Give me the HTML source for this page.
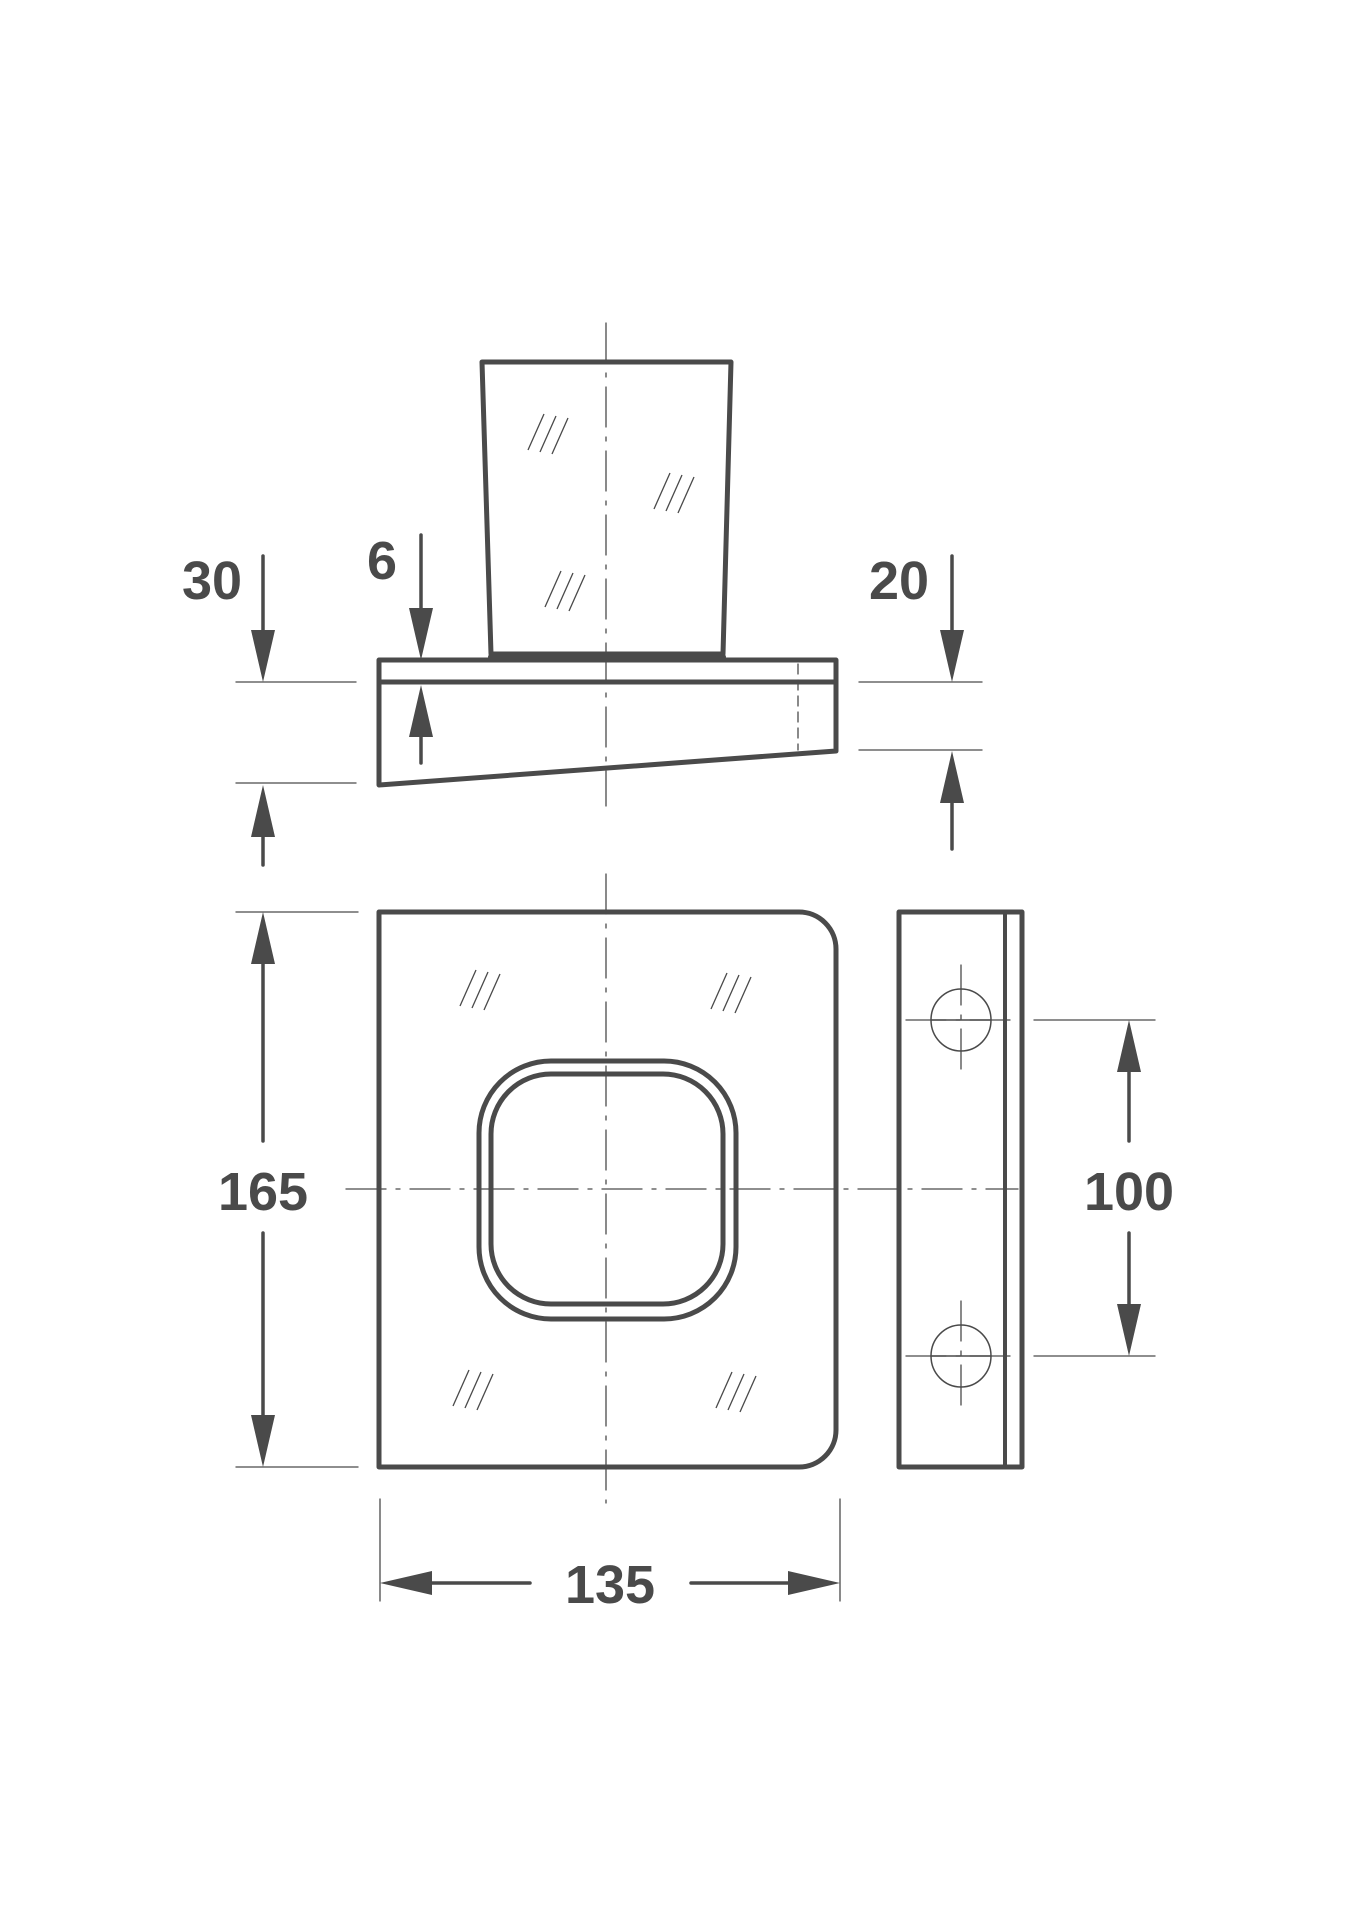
<!DOCTYPE html>
<html><head><meta charset="utf-8"><style>
html,body{margin:0;padding:0;background:#fff;}
svg{display:block;}
text{font-family:"Liberation Sans",sans-serif;font-weight:bold;fill:#4a4a4a;text-anchor:middle;}
</style></head><body>
<svg width="1352" height="1920" viewBox="0 0 1352 1920" xmlns="http://www.w3.org/2000/svg">
<defs>
<g id="h" stroke="#4a4a4a" stroke-width="1.3">
<line x1="-18" y1="18" x2="-2" y2="-18"/><line x1="-6" y1="20" x2="10" y2="-16"/><line x1="6" y1="22" x2="22" y2="-14"/>
</g>
</defs>
<g fill="none" stroke="#4a4a4a" stroke-linecap="round" stroke-linejoin="round">
<g stroke-width="1.3" stroke-dasharray="40,10,4,10">
<line x1="606" y1="323" x2="606" y2="806"/>
<line x1="606" y1="874" x2="606" y2="1503"/>
<line x1="346" y1="1189" x2="1018" y2="1189"/>
<line x1="961" y1="965" x2="961" y2="1075"/>
<line x1="961" y1="1301" x2="961" y2="1411"/>
<line x1="906" y1="1020" x2="1016" y2="1020"/>
<line x1="906" y1="1356" x2="1016" y2="1356"/>
</g>
<line x1="798" y1="664" x2="798" y2="750" stroke-width="1.3" stroke-dasharray="10,6"/>
<path d="M482 362 L731 362 L723 654 L491 654 Z" stroke-width="5"/>
<line x1="491" y1="657" x2="723" y2="657" stroke-width="6"/>
<path d="M379 660 L836 660 L836 751 L379 785 Z" stroke-width="5"/>
<line x1="379" y1="682" x2="836" y2="682" stroke-width="5"/>
<path d="M379 912 L799 912 A37 37 0 0 1 836 949 L836 1430 A37 37 0 0 1 799 1467 L379 1467 Z" stroke-width="5"/>
<rect x="479" y="1061" width="257" height="258" rx="72" stroke-width="5"/>
<rect x="491" y="1074" width="232" height="230" rx="60" stroke-width="5"/>
<rect x="899" y="912" width="123" height="555" stroke-width="5"/>
<line x1="1005" y1="912" x2="1005" y2="1467" stroke-width="4"/>
<ellipse cx="961" cy="1020" rx="30" ry="31" stroke-width="1.5"/>
<ellipse cx="961" cy="1356" rx="30" ry="31" stroke-width="1.5"/>
<line x1="931" y1="1020" x2="991" y2="1020" stroke-width="1.5"/>
<line x1="931" y1="1356" x2="991" y2="1356" stroke-width="1.5"/>
<g stroke-width="1.3">
<line x1="236" y1="682" x2="356" y2="682"/>
<line x1="236" y1="783" x2="356" y2="783"/>
<line x1="859" y1="682" x2="982" y2="682"/>
<line x1="859" y1="750" x2="982" y2="750"/>
<line x1="236" y1="912" x2="358" y2="912"/>
<line x1="236" y1="1467" x2="358" y2="1467"/>
<line x1="1034" y1="1020" x2="1155" y2="1020"/>
<line x1="1034" y1="1356" x2="1155" y2="1356"/>
<line x1="380" y1="1499" x2="380" y2="1601"/>
<line x1="840" y1="1499" x2="840" y2="1601"/>
</g>
<g stroke-width="3.5">
<line x1="263" y1="556" x2="263" y2="640"/>
<line x1="263" y1="825" x2="263" y2="865"/>
<line x1="421" y1="535" x2="421" y2="620"/>
<line x1="421" y1="725" x2="421" y2="763"/>
<line x1="952" y1="556" x2="952" y2="640"/>
<line x1="952" y1="792" x2="952" y2="849"/>
<line x1="263" y1="960" x2="263" y2="1141"/>
<line x1="263" y1="1233" x2="263" y2="1420"/>
<line x1="1129" y1="1065" x2="1129" y2="1141"/>
<line x1="1129" y1="1233" x2="1129" y2="1310"/>
<line x1="428" y1="1583" x2="530" y2="1583"/>
<line x1="691" y1="1583" x2="792" y2="1583"/>
</g>
</g>
<g fill="#4a4a4a">
<polygon points="263,682 251,630 275,630"/>
<polygon points="263,785 251,837 275,837"/>
<polygon points="421,660 409,608 433,608"/>
<polygon points="421,685 409,737 433,737"/>
<polygon points="952,682 940,630 964,630"/>
<polygon points="952,751 940,803 964,803"/>
<polygon points="263,912 251,964 275,964"/>
<polygon points="263,1467 251,1415 275,1415"/>
<polygon points="1129,1020 1117,1072 1141,1072"/>
<polygon points="1129,1356 1117,1304 1141,1304"/>
<polygon points="380,1583 432,1571 432,1595"/>
<polygon points="840,1583 788,1571 788,1595"/>
</g>
<use href="#h" x="546" y="432"/>
<use href="#h" x="672" y="491"/>
<use href="#h" x="563" y="589"/>
<use href="#h" x="478" y="988"/>
<use href="#h" x="729" y="991"/>
<use href="#h" x="471" y="1388"/>
<use href="#h" x="734" y="1390"/>
<g font-size="54">
<text x="212" y="599">30</text>
<text x="382" y="579">6</text>
<text x="899" y="599">20</text>
<text x="263" y="1210">165</text>
<text x="1129" y="1210">100</text>
<text x="610" y="1603">135</text>
</g>
</svg>
</body></html>
